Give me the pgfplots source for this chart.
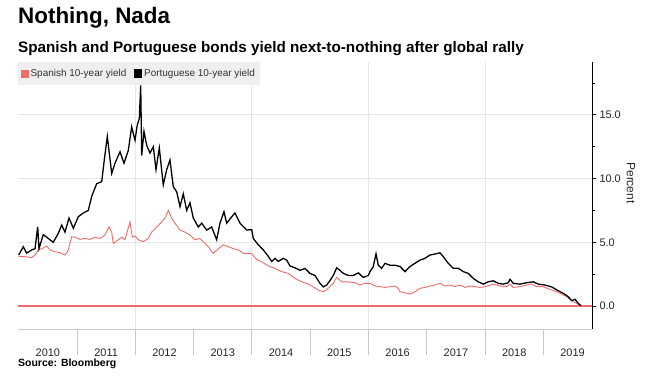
\documentclass[border=0pt]{standalone}
\usepackage{fontspec}
\setmainfont{Liberation Sans}
\usepackage{pgfplots}
\pgfplotsset{compat=1.18}
\definecolor{sred}{HTML}{F26B6B}
\definecolor{gridc}{HTML}{E6E6E6}
\definecolor{sepc}{HTML}{C8C8C8}
\definecolor{legbg}{HTML}{EFEFEF}
\begin{document}
\begin{tikzpicture}
\path[use as bounding box] (0bp,0bp) rectangle (655bp,392bp);
\begin{axis}[
  at={(18bp,63bp)}, anchor=south west,
  scale only axis, width=574bp, height=267bp,
  xmin=2009.988, xmax=2019.834,
  ymin=-1.8, ymax=19.14,
  axis x line*=bottom, axis y line*=right,
  x axis line style={sepc, line width=0.8bp},
  y axis line style={black, line width=0.8bp},
  xtick={2010.5,2011.5,2012.5,2013.5,2014.5,2015.5,2016.5,2017.5,2018.5,2019.5},
  xticklabels={2010,2011,2012,2013,2014,2015,2016,2017,2018,2019},
  xtick style={draw=none},
  xticklabel style={anchor=base, yshift=-23bp, font=\fontsize{11}{12}\selectfont, text=black!85},
  minor xtick={2012,2014,2016,2018},
  xminorgrids=true,
  minor x grid style={gridc, line width=0.8bp},
  ytick={0,5,10,15},
  minor ytick={2.5,7.5,12.5,17.5},
  ymajorgrids=true,
  y grid style={gridc, line width=0.8bp},
  tick align=outside,
  major tick length=4bp, minor tick length=3bp,
  ytick style={black, line width=0.6bp},
  yticklabel style={font=\fontsize{11}{12}\selectfont, text=black!85, /pgf/number format/.cd, fixed, fixed zerofill, precision=1, assume math mode=true},
  clip=false,
  legend style={at={(0,1)}, anchor=north west, fill=legbg, draw=none,
    legend columns=2, font=\fontsize{10}{11}\selectfont, text=black!80,
    inner xsep=3bp, inner ysep=5bp,
    /tikz/every even column/.append style={column sep=6bp}},
  legend cell align=left,
  legend image code/.code={\fill[#1] (0bp,-3.5bp) rectangle (6.5bp,3.5bp);},
]
\pgfplotsinvokeforeach{2011,2012,2013,2014,2015,2016,2017,2018,2019}{
  \draw[sepc, line width=0.8bp] (axis cs:#1,-1.8) -- ++(0bp,-26bp);
}
\addplot[sred, line width=1.3bp, forget plot] coordinates {(2009.988,0) (2019.834,0)};
\addplot[sred, line width=0.9bp] table {
x y
2010.00 3.9
2010.108 3.87
2010.223 3.8
2010.280 4.0
2010.336 4.4
2010.395 4.5
2010.480 4.7
2010.537 4.4
2010.623 4.26
2010.708 4.18
2010.794 4.0
2010.851 4.4
2010.909 5.44
2010.966 5.4
2011.051 5.23
2011.137 5.3
2011.223 5.23
2011.309 5.4
2011.394 5.3
2011.480 5.57
2011.549 6.2
2011.595 5.8
2011.623 4.9
2011.708 5.2
2011.767 5.4
2011.823 5.2
2011.909 6.6
2011.949 5.4
2011.995 5.5
2012.051 5.2
2012.137 5.05
2012.223 5.3
2012.281 5.8
2012.367 6.2
2012.453 6.6
2012.509 6.9
2012.566 7.5
2012.624 6.9
2012.681 6.5
2012.767 5.96
2012.852 5.8
2012.938 5.57
2013.024 5.2
2013.110 5.3
2013.166 5.05
2013.252 4.65
2013.338 4.13
2013.424 4.5
2013.509 4.8
2013.595 4.65
2013.681 4.5
2013.767 4.4
2013.853 4.13
2013.938 4.13
2013.997 4.1
2014.082 3.66
2014.168 3.47
2014.281 3.14
2014.396 2.96
2014.511 2.7
2014.624 2.56
2014.739 2.17
2014.854 1.9
2014.967 1.72
2015.053 1.5
2015.139 1.25
2015.225 1.12
2015.310 1.39
2015.396 1.78
2015.455 2.25
2015.540 1.9
2015.653 1.9
2015.768 1.83
2015.854 1.65
2015.940 1.78
2016.026 1.78
2016.111 1.57
2016.197 1.52
2016.283 1.46
2016.369 1.52
2016.454 1.57
2016.511 1.39
2016.540 1.12
2016.626 1.04
2016.712 0.94
2016.797 1.12
2016.883 1.39
2016.969 1.46
2017.054 1.57
2017.140 1.65
2017.226 1.78
2017.312 1.57
2017.398 1.65
2017.484 1.52
2017.569 1.65
2017.655 1.46
2017.741 1.57
2017.827 1.52
2017.913 1.46
2017.998 1.52
2018.141 1.72
2018.255 1.57
2018.370 1.52
2018.427 1.72
2018.484 1.46
2018.597 1.52
2018.714 1.65
2018.799 1.72
2018.885 1.52
2018.998 1.52
2019.113 1.3
2019.228 1.12
2019.314 0.94
2019.400 0.73
2019.485 0.42
2019.571 0.21
2019.627 0.03
};
\addlegendentry{Spanish 10-year yield}
\addplot[black, line width=1.3bp] table {
x y
2010.00 4.0
2010.079 4.65
2010.137 4.15
2010.223 4.4
2010.280 4.5
2010.326 6.2
2010.348 4.5
2010.422 5.6
2010.508 5.3
2010.593 5.0
2010.679 5.7
2010.738 6.35
2010.794 5.8
2010.863 6.9
2010.937 6.1
2011.022 7.0
2011.108 7.3
2011.194 7.5
2011.252 8.6
2011.338 9.6
2011.424 9.75
2011.468 11.45
2011.520 13.3
2011.595 10.4
2011.652 11.2
2011.738 12.1
2011.806 11.2
2011.880 12.2
2011.938 14.06
2011.995 13.0
2012.034 14.2
2012.069 14.7
2012.093 17.3
2012.110 11.8
2012.149 13.7
2012.196 12.6
2012.252 12.0
2012.309 12.5
2012.355 10.7
2012.412 12.4
2012.480 9.5
2012.539 10.7
2012.595 11.45
2012.652 9.35
2012.710 8.96
2012.767 7.8
2012.823 8.8
2012.882 7.5
2012.938 8.1
2012.995 6.9
2013.081 6.2
2013.139 6.5
2013.225 5.96
2013.310 6.2
2013.396 5.2
2013.453 6.5
2013.521 7.4
2013.568 6.5
2013.654 7.0
2013.710 7.3
2013.796 6.5
2013.911 5.96
2013.997 6.0
2014.024 5.3
2014.110 4.8
2014.196 4.4
2014.281 3.9
2014.340 3.5
2014.396 3.74
2014.453 3.5
2014.539 3.74
2014.597 3.6
2014.654 3.14
2014.739 3.0
2014.825 2.8
2014.911 2.95
2014.997 2.56
2015.082 2.4
2015.168 1.78
2015.225 1.5
2015.283 1.65
2015.340 2.0
2015.396 2.4
2015.455 3.0
2015.511 2.8
2015.568 2.56
2015.653 2.4
2015.739 2.4
2015.825 2.6
2015.911 2.25
2015.997 2.4
2016.026 2.7
2016.082 3.1
2016.129 4.1
2016.168 3.2
2016.226 2.96
2016.283 3.35
2016.369 3.2
2016.454 3.2
2016.540 3.1
2016.626 2.7
2016.712 3.1
2016.797 3.35
2016.883 3.6
2016.969 3.74
2017.054 4.0
2017.140 4.08
2017.226 4.18
2017.283 3.87
2017.369 3.35
2017.454 2.96
2017.540 2.96
2017.626 2.7
2017.712 2.56
2017.798 2.17
2017.883 1.9
2017.969 1.72
2018.055 1.9
2018.141 1.98
2018.226 1.78
2018.312 1.72
2018.398 1.83
2018.427 2.1
2018.484 1.78
2018.597 1.72
2018.714 1.83
2018.827 1.9
2018.913 1.72
2019.027 1.65
2019.142 1.5
2019.256 1.2
2019.341 1.0
2019.427 0.73
2019.485 0.42
2019.542 0.53
2019.598 0.21
2019.645 0.03
};
\addlegendentry{Portuguese 10-year yield}
\end{axis}
\node[anchor=base west, inner sep=0, font=\fontsize{22.5}{24}\selectfont\bfseries] at (18bp,368bp) {Nothing, Nada};
\node[anchor=base west, inner sep=0, font=\fontsize{15.3}{17}\selectfont\bfseries] at (18bp,339bp) {Spanish and Portuguese bonds yield next-to-nothing after global rally};
\node[anchor=base west, inner sep=0, font=\fontsize{10.5}{12}\selectfont\bfseries] at (18bp,26bp) {Source: Bloomberg};
\node[rotate=-90, inner sep=0, font=\fontsize{12}{13}\selectfont, text=black!85] at (631bp,209bp) {Percent};
\end{tikzpicture}
\end{document}
